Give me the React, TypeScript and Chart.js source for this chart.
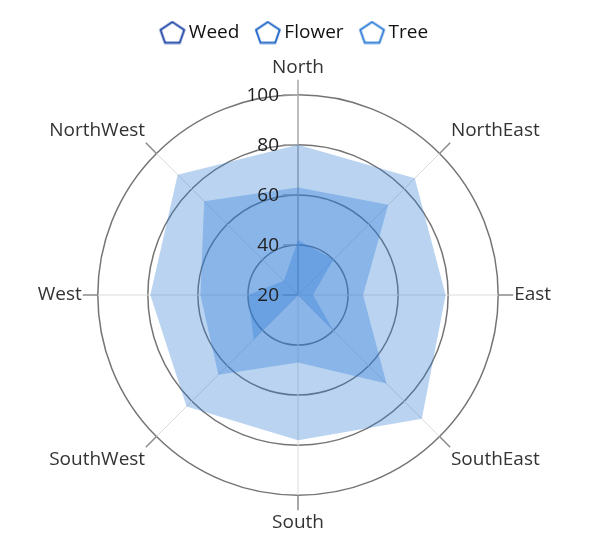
import React, { useEffect, useRef } from 'react';
import { Chart, registerables } from 'chart.js';

Chart.register(...registerables);

const directions = ['North', 'NorthEast', 'East', 'SouthEast', 'South', 'SouthWest', 'West', 'NorthWest'];
const weed = [42, 40, 26, 40, 20, 45, 40, 28];
const flower = [63, 71, 46, 70, 47, 65, 59, 73];
const tree = [80, 86, 79, 90, 78, 83, 79, 88];
const tickValues = [20, 40, 60, 80, 100];
const seriesNames = ['Weed', 'Flower', 'Tree'];
const lineColors = ['#1c43a6', '#1f66c6', '#2a7bd6'];
const fillColors = ['rgba(43,122,214,0.34)', 'rgba(43,122,214,0.34)', 'rgba(43,122,214,0.33)'];

const FONT = "'Open Sans', 'Noto Sans', sans-serif";

function pentagon(color: string): HTMLCanvasElement {
  const c = document.createElement('canvas');
  c.width = 40;
  c.height = 24;
  const ctx = c.getContext('2d')!;
  ctx.strokeStyle = color;
  ctx.lineWidth = 2;
  ctx.lineJoin = 'miter';
  const cx = 25.75, cy = 13, rx = 12.5, ry = 11.5;
  ctx.beginPath();
  for (let i = 0; i < 5; i++) {
    const a = -Math.PI / 2 + (i * 2 * Math.PI) / 5;
    const x = cx + rx * Math.cos(a);
    const y = cy + ry * Math.sin(a);
    if (i === 0) ctx.moveTo(x, y);
    else ctx.lineTo(x, y);
  }
  ctx.closePath();
  ctx.stroke();
  return c;
}

const legendGap = {
  id: 'legendGap',
  afterInit(chart: any) {
    const lg = chart.legend;
    if (!lg || lg.__patched) return;
    const fit = lg.fit;
    lg.fit = function () {
      fit.call(this);
      this.height += 4;
    };
    lg.__patched = true;
  },
  afterLayout(chart: any) {
    const lg = chart.legend;
    if (!lg) return;
    lg.left -= 4;
    lg.right -= 4;
  },
};

const axisDecor = {
  id: 'axisDecor',
  beforeDatasetsDraw(chart: any) {
    const s = chart.scales.r;
    const ctx = chart.ctx;
    const outer = s.drawingArea;
    const ext = outer + 15;
    ctx.save();
    for (let i = 0; i < directions.length; i++) {
      const p0 = s.getPointPosition(i, 0);
      const p1 = s.getPointPosition(i, outer);
      const p2 = s.getPointPosition(i, ext);
      if (i === 0) {
        ctx.strokeStyle = '#a9a9a9';
        ctx.lineWidth = 1.5;
        ctx.beginPath();
        ctx.moveTo(p0.x, p0.y);
        ctx.lineTo(p2.x, p2.y);
        ctx.stroke();
      } else {
        ctx.strokeStyle = '#dcdcdc';
        ctx.lineWidth = 1;
        ctx.beginPath();
        ctx.moveTo(p0.x, p0.y);
        ctx.lineTo(p1.x, p1.y);
        ctx.stroke();
        ctx.strokeStyle = '#8a8a8a';
        ctx.lineWidth = 1.5;
        ctx.beginPath();
        ctx.moveTo(p1.x, p1.y);
        ctx.lineTo(p2.x, p2.y);
        ctx.stroke();
      }
    }
    ctx.strokeStyle = '#a9a9a9';
    ctx.lineWidth = 1.5;
    tickValues.forEach((v) => {
      const y = s.yCenter - s.getDistanceFromCenterForValue(v);
      ctx.beginPath();
      ctx.moveTo(s.xCenter - 15, y);
      ctx.lineTo(s.xCenter, y);
      ctx.stroke();
    });
    ctx.restore();
  },
  afterDatasetsDraw(chart: any) {
    const s = chart.scales.r;
    const ctx = chart.ctx;
    ctx.save();
    ctx.fillStyle = '#222';
    ctx.font = `19px ${FONT}`;
    ctx.textAlign = 'right';
    ctx.textBaseline = 'middle';
    tickValues.forEach((v) => {
      const y = s.yCenter - s.getDistanceFromCenterForValue(v);
      ctx.fillText(String(v), s.xCenter - 19, y + 1);
    });
    ctx.restore();
  },
};

export default function App() {
  const ref = useRef<HTMLCanvasElement>(null);

  useEffect(() => {
    if (!ref.current) return;
    const icons = lineColors.map((c) => pentagon(c));
    const values = [weed, flower, tree];
    const chart = new Chart(ref.current, {
      type: 'radar',
      data: {
        labels: directions,
        datasets: seriesNames.map((name, i) => ({
          label: name,
          data: values[i],
          backgroundColor: fillColors[i],
          borderColor: lineColors[i],
          borderWidth: 0,
          fill: true,
          pointRadius: 0,
          pointHoverRadius: 0,
          pointStyle: icons[i] as any,
        })),
      },
      options: {
        animation: false,
        responsive: true,
        maintainAspectRatio: false,
        layout: { padding: { top: 5, bottom: 18, right: 10 } },
        elements: { line: { tension: 0 } },
        scales: {
          r: {
            min: 20,
            max: 100,
            ticks: { display: false, stepSize: 20 },
            grid: { circular: true, color: '#747474', lineWidth: 1.5 },
            angleLines: { display: false },
            pointLabels: { font: { size: 19, family: FONT }, color: '#333', padding: 16 },
          },
        },
        plugins: {
          tooltip: { enabled: false },
          legend: {
            position: 'top',
            labels: {
              usePointStyle: true,
              pointStyleWidth: 25.5,
              padding: 10,
              color: '#111',
              font: { size: 19, family: FONT },
              generateLabels: (ch: any) => {
                const items = Chart.defaults.plugins.legend.labels.generateLabels(ch);
                return items.map((it: any, i: number) => ({ ...it, pointStyle: icons[i], lineWidth: 0 }));
              },
            },
          },
        },
      },
      plugins: [legendGap, axisDecor],
    });
    return () => chart.destroy();
  }, []);

  return (
    <div style={{ position: 'relative', width: 584, height: 544 }}>
      <canvas ref={ref} />
    </div>
  );
}
